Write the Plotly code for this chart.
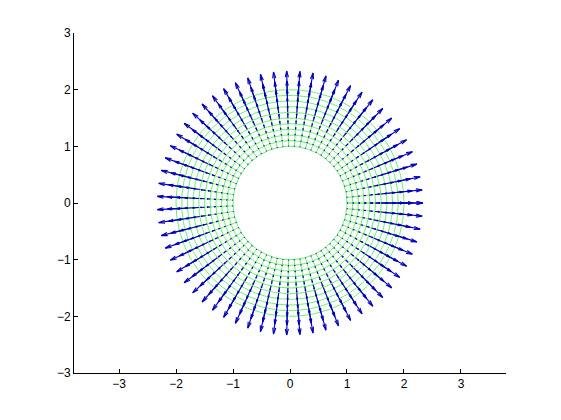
import numpy as np
import plotly.graph_objects as go

# Grid of the annulus
ring_radii = [1.0, 1.1, 1.2, 1.3, 1.4, 1.5, 1.6, 1.7, 1.8, 1.9, 2.0]
n_angles = 64  # angles from 0 to 2*pi inclusive
# Estimated radial arrow length at each ring
arrow_len = [0.01, 0.015, 0.022, 0.035, 0.055, 0.08, 0.11, 0.15, 0.195, 0.255, 0.33]

x_ticks = [-3, -2, -1, 0, 1, 2, 3]
y_ticks = [-3, -2, -1, 0, 1, 2, 3]

theta = np.linspace(0, 2 * np.pi, n_angles)
radii = np.array(ring_radii)

# Green mesh: circles and radial lines
mx, my = [], []
fine = np.linspace(0, 2 * np.pi, 361)
for r in radii:
    mx += list(r * np.cos(fine)) + [None]
    my += list(r * np.sin(fine)) + [None]
for t in theta:
    mx += [radii[0] * np.cos(t), radii[-1] * np.cos(t), None]
    my += [radii[0] * np.sin(t), radii[-1] * np.sin(t), None]

# Blue quiver arrows (MATLAB style heads)
alpha, beta = 0.33, 0.25
ax_, ay_ = [], []
for r, L in zip(radii, arrow_len):
    for t in theta:
        x0, y0 = r * np.cos(t), r * np.sin(t)
        u, v = L * np.cos(t), L * np.sin(t)
        x1, y1 = x0 + u, y0 + v
        ax_ += [x0, x1, None]
        ay_ += [y0, y1, None]
        ax_ += [x1 - alpha * (u + beta * v), x1, x1 - alpha * (u - beta * v), None]
        ay_ += [y1 - alpha * (v - beta * u), y1, y1 - alpha * (v + beta * u), None]

fig = go.Figure()
fig.add_trace(go.Scatter(x=mx, y=my, mode="lines",
                         line=dict(color="rgb(115,238,115)", width=1),
                         hoverinfo="skip", showlegend=False))
fig.add_trace(go.Scatter(x=ax_, y=ay_, mode="lines",
                         line=dict(color="rgb(0,0,190)", width=1.15),
                         hoverinfo="skip", showlegend=False))

axis_common = dict(showline=True, linecolor="black", linewidth=1,
                   ticks="inside", ticklen=4, tickcolor="black",
                   showgrid=False, zeroline=False, mirror=False,
                   tickfont=dict(family="Liberation Sans, Arial", size=12, color="black"))
fig.update_xaxes(range=[-3.79, 3.79], tickvals=x_ticks, **axis_common)
fig.update_yaxes(range=[-3, 3], tickvals=y_ticks, **axis_common)

fig.update_layout(width=561, height=420,
                  margin=dict(l=66, r=63, t=25, b=55),
                  paper_bgcolor="white", plot_bgcolor="white")
fig.write_html("out.html")
